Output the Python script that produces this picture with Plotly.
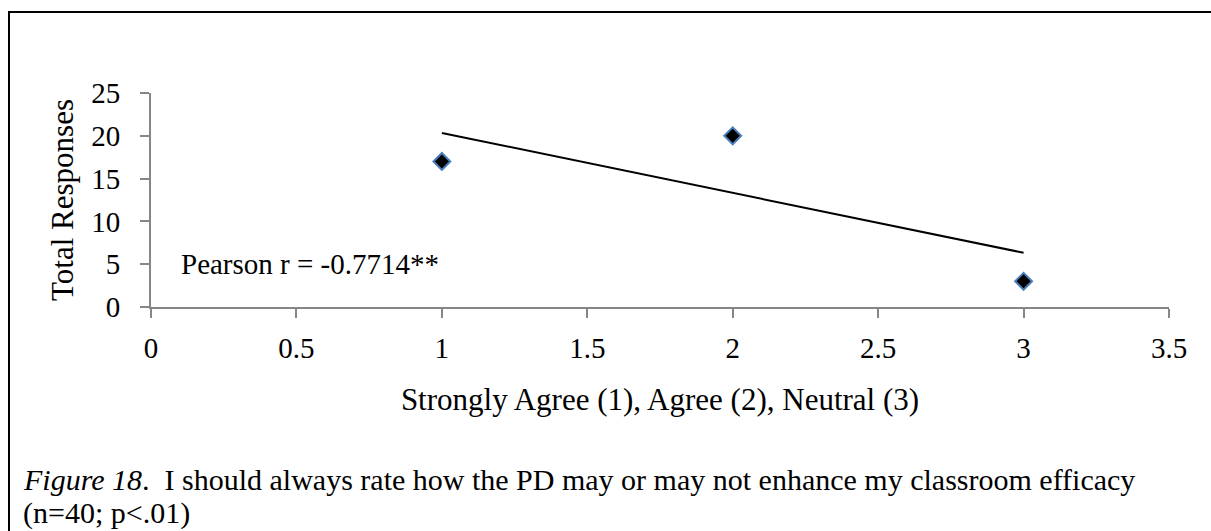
import numpy as np
import plotly.graph_objects as go

# ---- data ----
ratings = [1, 2, 3]                 # Strongly Agree (1), Agree (2), Neutral (3)
responses = [17, 20, 3]             # Total responses
x_ticks = [0, 0.5, 1, 1.5, 2, 2.5, 3, 3.5]
x_tick_labels = ["0", "0.5", "1", "1.5", "2", "2.5", "3", "3.5"]
y_ticks = [0, 5, 10, 15, 20, 25]
y_tick_labels = ["0", "5", "10", "15", "20", "25"]
pearson_label = "Pearson r = -0.7714**"
x_title = "Strongly Agree (1), Agree (2), Neutral (3)"
y_title = "Total Responses"
caption_line1 = "<i>Figure 18</i>.  I should always rate how the PD may or may not enhance my classroom efficacy"
caption_line2 = "(n=40; p<.01)"

# linear trendline (least squares) from the data
slope, intercept = np.polyfit(ratings, responses, 1)
trend_x = [min(ratings), max(ratings)]
trend_y = [slope * v + intercept for v in trend_x]

FONT = "Liberation Serif, Times New Roman, serif"
W, H = 1211, 531
L, R, T, B = 151, 42, 93, 224
pw, ph = W - L - R, H - T - B


def px_x(px):
    return (px - L) / pw


def px_y(py):
    return (H - B - py) / ph


fig = go.Figure()
fig.add_trace(go.Scatter(
    x=trend_x, y=trend_y, mode="lines",
    line=dict(color="black", width=2),
    showlegend=False, hoverinfo="skip",
))
fig.add_trace(go.Scatter(
    x=ratings, y=responses, mode="markers",
    marker=dict(symbol="diamond", size=13, color="black",
                line=dict(color="#4A7EBB", width=2)),
    showlegend=False,
))

axis_common = dict(
    showgrid=False, zeroline=False, showline=True,
    linecolor="#868686", linewidth=2,
    ticks="outside", ticklen=9, tickwidth=2, tickcolor="#868686",
    tickfont=dict(family=FONT, size=29, color="black"),
)

fig.update_xaxes(
    range=[0, 3.5], tickvals=x_ticks, ticktext=x_tick_labels,
    ticklabelstandoff=5,
    title=dict(text=x_title, font=dict(family=FONT, size=31, color="black"),
               standoff=26),
    **axis_common,
)
fig.update_yaxes(
    range=[0, 25], tickvals=y_ticks, ticktext=y_tick_labels,
    ticklabelstandoff=14,
    title=dict(text=y_title, font=dict(family=FONT, size=31, color="black"),
               standoff=8),
    **axis_common,
)

fig.add_annotation(
    x=0.095, y=5, xref="x", yref="y", text=pearson_label, showarrow=False,
    xanchor="left", yanchor="middle",
    font=dict(family=FONT, size=29, color="black"),
)
fig.add_annotation(
    x=px_x(22), y=px_y(479), xref="paper", yref="paper", text=caption_line1,
    showarrow=False, xanchor="left", yanchor="middle", borderpad=0,
    font=dict(family=FONT, size=30, color="black"),
)
fig.add_annotation(
    x=px_x(22), y=px_y(513), xref="paper", yref="paper", text=caption_line2,
    showarrow=False, xanchor="left", yanchor="middle", borderpad=0,
    font=dict(family=FONT, size=30, color="black"),
)

# outer frame of the figure box
fig.add_shape(
    type="rect", xref="paper", yref="paper",
    x0=px_x(9), x1=px_x(1240), y0=px_y(560), y1=px_y(12),
    line=dict(color="black", width=2), fillcolor="rgba(0,0,0,0)",
    layer="below",
)

fig.update_layout(
    width=W, height=H,
    margin=dict(l=L, r=R, t=T, b=B),
    paper_bgcolor="white", plot_bgcolor="white",
    showlegend=False,
)

fig.write_html("out.html")
